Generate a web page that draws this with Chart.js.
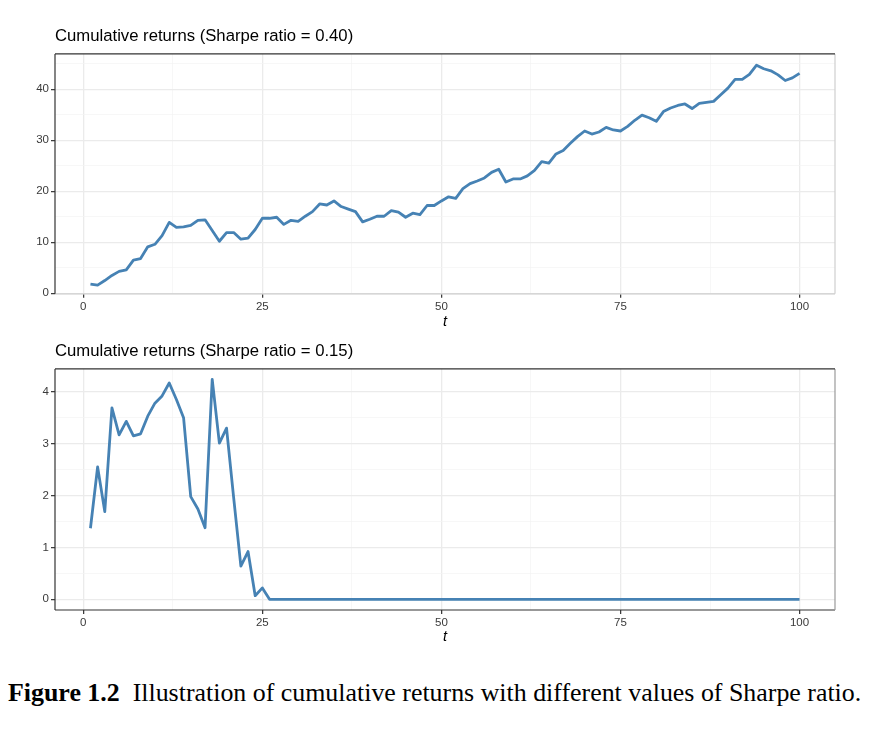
<!DOCTYPE html>
<html><head><meta charset="utf-8">
<script src="https://cdn.jsdelivr.net/npm/chart.js@4"></script>
<style>
html,body{margin:0;padding:0;background:#fff;}
body{width:876px;height:744px;position:relative;overflow:hidden;}
.wrap{position:absolute;left:0;width:876px;}
#w1{top:0;height:335px;}
#w2{top:335px;height:315px;}
#caption{position:absolute;left:8px;top:678px;font-family:"Liberation Serif","Times New Roman",serif;font-size:25.9px;line-height:30px;color:#000;white-space:nowrap;}
</style></head>
<body>
<div class="wrap" id="w1"><canvas id="c1" width="876" height="335" style="width:876px;height:335px"></canvas></div>
<div class="wrap" id="w2"><canvas id="c2" width="876" height="315" style="width:876px;height:315px"></canvas></div>
<div id="caption"><b>Figure 1.2</b>&nbsp; Illustration of cumulative returns with different values of Sharpe ratio.</div>
<script>
// ---- data ----
const tValues = [1,2,3,4,5,6,7,8,9,10,11,12,13,14,15,16,17,18,19,20,21,22,23,24,25,26,27,28,29,30,31,32,33,34,35,36,37,38,39,40,41,42,43,44,45,46,47,48,49,50,51,52,53,54,55,56,57,58,59,60,61,62,63,64,65,66,67,68,69,70,71,72,73,74,75,76,77,78,79,80,81,82,83,84,85,86,87,88,89,90,91,92,93,94,95,96,97,98,99,100];
const returnsSharpe040 = [1.8,1.6,2.5,3.5,4.3,4.6,6.5,6.8,9.1,9.6,11.3,13.9,12.9,13.0,13.3,14.3,14.4,12.3,10.2,11.9,11.9,10.6,10.8,12.5,14.7,14.7,14.9,13.5,14.3,14.1,15.1,16.0,17.5,17.3,18.1,17.0,16.5,16.0,14.0,14.5,15.1,15.1,16.2,15.9,14.9,15.7,15.4,17.2,17.2,18.1,18.9,18.6,20.5,21.5,22.0,22.6,23.7,24.3,21.8,22.4,22.4,23.0,24.1,25.8,25.5,27.3,28.0,29.4,30.7,31.8,31.2,31.6,32.5,32.0,31.8,32.7,33.9,34.9,34.4,33.7,35.6,36.3,36.8,37.1,36.2,37.2,37.4,37.6,38.9,40.2,41.9,41.9,42.9,44.7,44.0,43.6,42.8,41.7,42.2,43.1];
const returnsSharpe015 = [1.37,2.55,1.69,3.69,3.17,3.43,3.15,3.19,3.53,3.78,3.92,4.17,3.85,3.50,1.98,1.74,1.38,4.24,3.01,3.30,1.95,0.64,0.92,0.07,0.22,0,0,0,0,0,0,0,0,0,0,0,0,0,0,0,0,0,0,0,0,0,0,0,0,0,0,0,0,0,0,0,0,0,0,0,0,0,0,0,0,0,0,0,0,0,0,0,0,0,0,0,0,0,0,0,0,0,0,0,0,0,0,0,0,0,0,0,0,0,0,0,0,0,0,0];
const xMajorTicks = [0,25,50,75,100];
const xMinorTicks = [12.5,37.5,62.5,87.5];
const yMajorTicksTop = [0,10,20,30,40];
const yMinorTicksTop = [5,15,25,35,45];
const yMajorTicksBottom = [0,1,2,3,4];
const yMinorTicksBottom = [0.5,1.5,2.5,3.5];
const titleTop = 'Cumulative returns (Sharpe ratio = 0.40)';
const titleBottom = 'Cumulative returns (Sharpe ratio = 0.15)';
const xTitle = 't';

// ---- styling / building ----
const FONT = '"Liberation Sans", Arial, Helvetica, sans-serif';
const LINE = '#4682b4';

function borderPlugin(colors){
  return {
    id:'panelBorder',
    afterDraw(chart){
      const {ctx, chartArea:a} = chart;
      ctx.save();
      ctx.lineWidth = 1.2;
      const seg = (x1,y1,x2,y2,c)=>{ctx.strokeStyle=c;ctx.beginPath();ctx.moveTo(x1,y1);ctx.lineTo(x2,y2);ctx.stroke();};
      seg(a.left,a.bottom,a.right,a.bottom,colors.bottom);
      seg(a.right,a.top,a.right,a.bottom,colors.right);
      seg(a.left,a.top,a.right,a.top,colors.top);
      seg(a.left,a.top,a.left,a.bottom,colors.left);
      ctx.restore();
    }
  };
}

function makeChart(id, values, title, yMajor, yMinor, yMin, yMax, titlePad, xAxisH, borderColors){
  const pts = tValues.map((t,i)=>({x:t, y:values[i]}));
  const isMajor = (arr,v)=>arr.some(m=>Math.abs(m-v)<1e-9);
  const gridColor = (arr)=>(c)=> isMajor(arr,c.tick.value) ? '#ebebeb' : '#f3f3f3';
  const gridWidth = (arr)=>(c)=> isMajor(arr,c.tick.value) ? 1.3 : 0.7;
  const tickColor = (arr)=>(c)=> isMajor(arr,c.tick.value) ? '#333333' : 'rgba(0,0,0,0)';
  return new Chart(document.getElementById(id), {
    type:'line',
    data:{datasets:[{data:pts, borderColor:LINE, borderWidth:2.8, pointRadius:0, tension:0, borderJoinStyle:'round', fill:false}]},
    options:{
      responsive:false, animation:false,
      layout:{padding:{left:0,right:41,top:0,bottom:0}},
      plugins:{
        legend:{display:false}, tooltip:{enabled:false},
        title:{display:true, text:title, align:'start', fullSize:false, color:'#000',
          font:{family:FONT, size:16.7, weight:'normal', lineHeight:1.2}, padding:titlePad}
      },
      scales:{
        x:{type:'linear', min:-3.95, max:104.95,
          afterBuildTicks:(s)=>{s.ticks = xMajorTicks.concat(xMinorTicks).sort((a,b)=>a-b).map(v=>({value:v}));},
          afterFit:(s)=>{s.height = xAxisH;},
          ticks:{callback:(v)=> isMajor(xMajorTicks,v)? String(v):'', font:{family:FONT,size:11.5}, color:'#3a3a3a', padding:2, maxRotation:0, autoSkip:false},
          grid:{color:gridColor(xMajorTicks), lineWidth:gridWidth(xMajorTicks), tickColor:tickColor(xMajorTicks), tickLength:4, tickWidth:1.2, drawTicks:true},
          border:{display:false},
          title:{display:true, text:xTitle, color:'#000', font:{family:FONT,size:14.5,style:'italic',lineHeight:1.2}, padding:{top:0,bottom:4.6}}
        },
        y:{type:'linear', min:yMin, max:yMax,
          afterBuildTicks:(s)=>{s.ticks = yMajor.concat(yMinor).sort((a,b)=>a-b).map(v=>({value:v}));},
          afterFit:(s)=>{s.width = 55;},
          ticks:{callback:(v)=> isMajor(yMajor,v)? String(v):'', font:{family:FONT,size:11.5}, color:'#3a3a3a', padding:2, autoSkip:false},
          grid:{color:gridColor(yMajor), lineWidth:gridWidth(yMajor), tickColor:tickColor(yMajor), tickLength:4, tickWidth:1.2, drawTicks:true},
          border:{display:false}
        }
      }
    },
    plugins:[borderPlugin(borderColors)]
  });
}

makeChart('c1', returnsSharpe040, titleTop, yMajorTicksTop, yMinorTicksTop, -0.1, 46.9, {top:26.6,bottom:7.3}, 41.2,
  {top:'#333', left:'#333', right:'#cfcfcf', bottom:'#cfcfcf'});
makeChart('c2', returnsSharpe015, titleBottom, yMajorTicksBottom, yMinorTicksBottom, -0.206, 4.44, {top:6.6,bottom:7.3}, 40,
  {top:'#333', left:'#333', right:'#9a9a9a', bottom:'#333'});
</script>
</body></html>
